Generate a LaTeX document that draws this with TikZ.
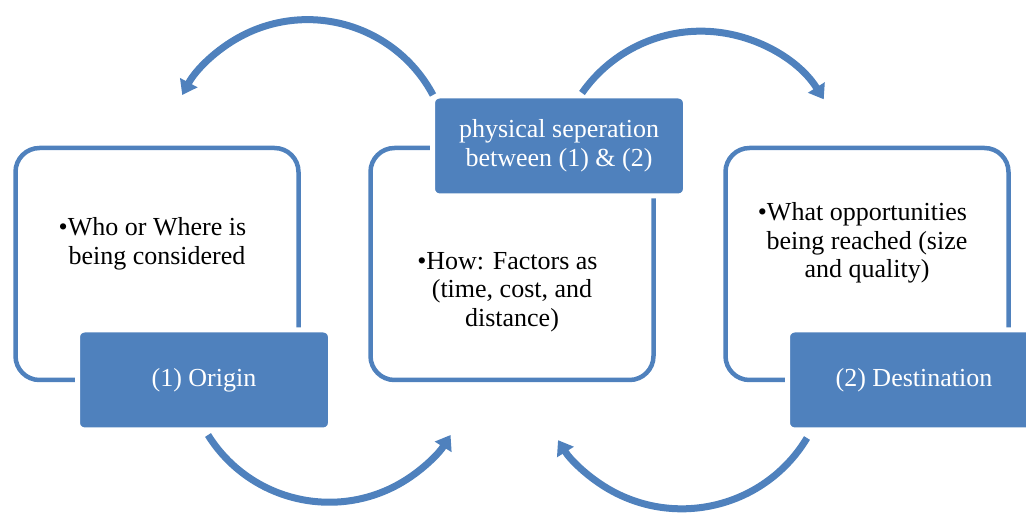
\documentclass[tikz,border=0pt]{standalone}
\usepackage{fontspec}
\setmainfont{Liberation Serif}
\usetikzlibrary{arrows.meta,positioning}
\definecolor{accent}{RGB}{79,129,189}

\begin{document}
\begin{tikzpicture}[x=1pt, y=1pt,
    every node/.style={font=\fontsize{26}{28.5}\selectfont},
    panel/.style={draw=accent, line width=4.5pt, rounded corners=24pt, minimum width=283pt, minimum height=232pt, outer sep=0pt},
    tagbox/.style={fill=accent, draw=white, line width=5pt, rounded corners=7pt, minimum width=253pt, minimum height=100pt, text=white, align=center, outer sep=0pt},
    bullets/.style={align=center, inner sep=0pt},
    flowarc/.style={accent, line width=7pt, -{Triangle[width=19pt,length=14pt]}}]
    \useasboundingbox (0,0) rectangle (1026,516);

    % the three frames
    \node[panel] (p1) at (157,252) {};
    \node[panel] (p2) at (512,252) {};
    \node[panel] (p3) at (867,252) {};

    \node[bullets] (who) at (157,272) {\llap{\textbullet}Who or Where is\\being considered};
    \node[bullets] (how) at (512,224) {\llap{\textbullet}How: Factors as\\(time, cost, and\\distance)};
    \node[bullets] (what) at (867,273) {\llap{\textbullet}What opportunities\\being reached (size\\and quality)};

    % filled labels sitting on the frame edges
    \node[tagbox] (origin) at ([xshift=47pt]p1.south) {(1) Origin};
    \node[tagbox] (sep) at ([xshift=47pt, yshift=2pt]p2.north) {physical seperation\\between (1) \& (2)};
    \node[tagbox] (dest) at ([xshift=47pt]p3.south) {(2) Destination};

    % curved arrows between the frames
    \coordinate (a1) at (433,421);
    \coordinate (a2) at (582,423);
    \coordinate (a3) at (208,81);
    \coordinate (a4) at (807,78);
    \draw[flowarc] (a1) arc[start angle=28, end angle=152, radius=142];
    \draw[flowarc] (a2) arc[start angle=145, end angle=32, radius=145];
    \draw[flowarc] (a3) arc[start angle=212, end angle=328, radius=143];
    \draw[flowarc] (a4) arc[start angle=-31, end angle=-148, radius=146];
\end{tikzpicture}
\end{document}
